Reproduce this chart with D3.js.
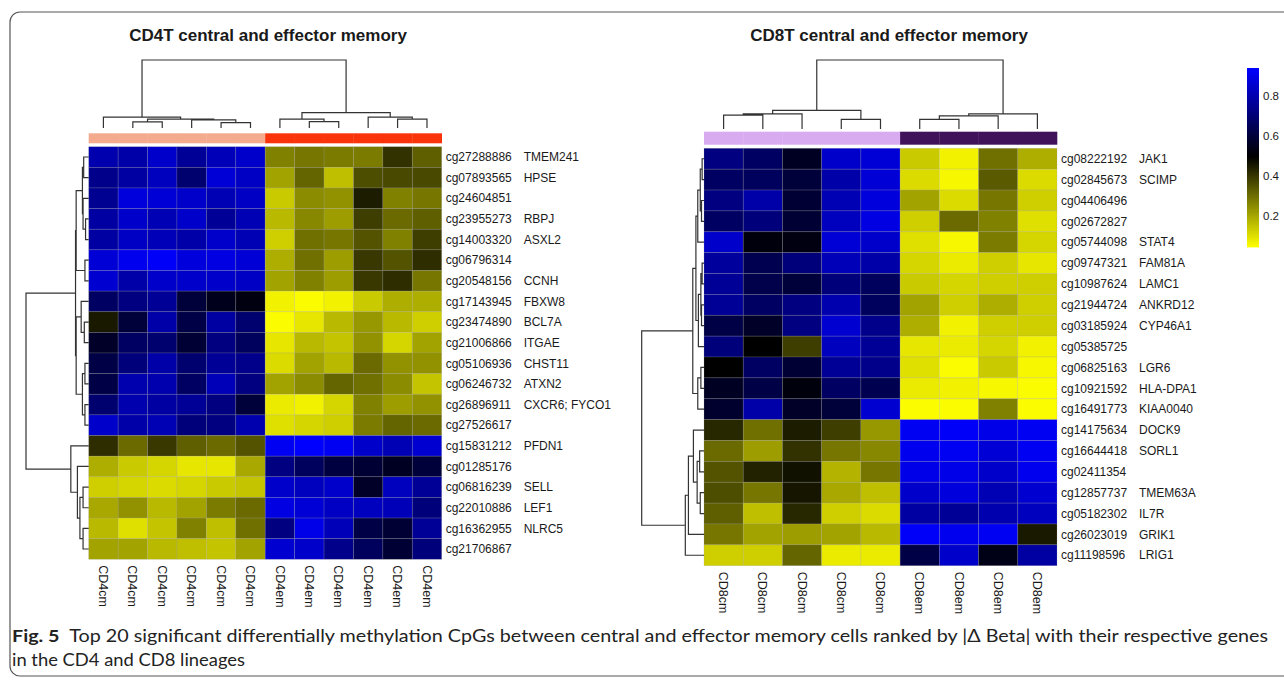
<!DOCTYPE html>
<meta charset="utf-8">
<style>
body { margin: 0; background: #fff; }
text { font-family: "Liberation Sans", Arial, sans-serif; fill: #1a1a1a; }
.title { font-size: 17px; font-weight: bold; text-anchor: middle; }
.rowlab { font-size: 12px; }
.collab { font-size: 12.5px; }
.dendro { fill: none; stroke: #333; stroke-width: 1.2; }
.cell { stroke: rgba(160,160,160,0.3); stroke-width: 0.7; }
.caption { font-family: Lato, "Liberation Sans Narrow", "Liberation Sans", sans-serif; font-size: 17px; fill: #222; }
</style>
<svg width="1284" height="682"></svg>
<script src="https://d3js.org/d3.v7.min.js"></script>
<script>

// ---- data ----
var cd4Samples = ["CD4cm", "CD4cm", "CD4cm", "CD4cm", "CD4cm", "CD4cm",
                  "CD4em", "CD4em", "CD4em", "CD4em", "CD4em", "CD4em"];
var cd4Probes = ["cg27288886", "cg07893565", "cg24604851", "cg23955273", "cg14003320",
                 "cg06796314", "cg20548156", "cg17143945", "cg23474890", "cg21006866",
                 "cg05106936", "cg06246732", "cg26896911", "cg27526617", "cg15831212",
                 "cg01285176", "cg06816239", "cg22010886", "cg16362955", "cg21706867"];
var cd4Genes = ["TMEM241", "HPSE", "", "RBPJ", "ASXL2", "", "CCNH", "FBXW8", "BCL7A", "ITGAE",
                "CHST11", "ATXN2", "CXCR6; FYCO1", "", "PFDN1", "", "SELL", "LEF1", "NLRC5", ""];
var cd4Beta = [
  [0.80, 0.79, 0.85, 0.76, 0.82, 0.85, 0.27, 0.29, 0.28, 0.28, 0.41, 0.33],
  [0.74, 0.78, 0.83, 0.69, 0.87, 0.84, 0.21, 0.32, 0.16, 0.36, 0.37, 0.37],
  [0.75, 0.88, 0.87, 0.85, 0.81, 0.84, 0.14, 0.25, 0.24, 0.45, 0.27, 0.29],
  [0.78, 0.85, 0.81, 0.85, 0.76, 0.81, 0.17, 0.26, 0.22, 0.39, 0.31, 0.33],
  [0.78, 0.84, 0.82, 0.79, 0.85, 0.81, 0.13, 0.30, 0.29, 0.35, 0.27, 0.39],
  [0.87, 0.91, 0.93, 0.88, 0.89, 0.87, 0.19, 0.30, 0.22, 0.40, 0.35, 0.42],
  [0.86, 0.79, 0.85, 0.85, 0.85, 0.84, 0.21, 0.27, 0.22, 0.40, 0.42, 0.29],
  [0.67, 0.72, 0.76, 0.60, 0.55, 0.53, 0.07, 0.05, 0.07, 0.14, 0.19, 0.19],
  [0.455, 0.60, 0.79, 0.62, 0.78, 0.69, 0.05, 0.09, 0.17, 0.23, 0.17, 0.13],
  [0.57, 0.67, 0.69, 0.59, 0.72, 0.66, 0.09, 0.17, 0.15, 0.24, 0.12, 0.21],
  [0.62, 0.71, 0.79, 0.69, 0.76, 0.74, 0.11, 0.21, 0.17, 0.31, 0.24, 0.24],
  [0.62, 0.80, 0.80, 0.67, 0.82, 0.72, 0.21, 0.25, 0.32, 0.30, 0.25, 0.15],
  [0.69, 0.80, 0.78, 0.76, 0.72, 0.60, 0.08, 0.07, 0.12, 0.27, 0.22, 0.24],
  [0.85, 0.79, 0.81, 0.71, 0.72, 0.80, 0.10, 0.12, 0.13, 0.28, 0.32, 0.31],
  [0.42, 0.31, 0.40, 0.33, 0.31, 0.35, 0.92, 0.94, 0.92, 0.85, 0.81, 0.86],
  [0.19, 0.14, 0.12, 0.09, 0.09, 0.20, 0.72, 0.66, 0.61, 0.59, 0.56, 0.60],
  [0.13, 0.12, 0.11, 0.12, 0.14, 0.15, 0.85, 0.83, 0.85, 0.57, 0.83, 0.76],
  [0.20, 0.24, 0.17, 0.21, 0.28, 0.31, 0.89, 0.87, 0.84, 0.83, 0.82, 0.71],
  [0.17, 0.10, 0.15, 0.27, 0.16, 0.30, 0.72, 0.90, 0.82, 0.62, 0.59, 0.76],
  [0.21, 0.21, 0.17, 0.16, 0.15, 0.21, 0.86, 0.85, 0.74, 0.66, 0.59, 0.71]
];

var cd8Samples = ["CD8cm", "CD8cm", "CD8cm", "CD8cm", "CD8cm",
                  "CD8em", "CD8em", "CD8em", "CD8em"];
var cd8Probes = ["cg08222192", "cg02845673", "cg04406496", "cg02672827", "cg05744098",
                 "cg09747321", "cg10987624", "cg21944724", "cg03185924", "cg05385725",
                 "cg06825163", "cg10921592", "cg16491773", "cg14175634", "cg16644418",
                 "cg02411354", "cg12857737", "cg05182302", "cg26023019", "cg11198596"];
var cd8Genes = ["JAK1", "SCIMP", "", "", "STAT4", "FAM81A", "LAMC1", "ANKRD12", "CYP46A1", "",
                "LGR6", "HLA-DPA1", "KIAA0040", "DOCK9", "SORL1", "", "TMEM63A", "IL7R", "GRIK1", "LRIG1"];
var cd8Beta = [
  [0.72, 0.67, 0.56, 0.85, 0.87, 0.14, 0.07, 0.30, 0.19],
  [0.67, 0.66, 0.60, 0.79, 0.87, 0.11, 0.06, 0.34, 0.11],
  [0.72, 0.79, 0.59, 0.81, 0.88, 0.21, 0.11, 0.29, 0.13],
  [0.67, 0.71, 0.59, 0.83, 0.89, 0.13, 0.31, 0.27, 0.10],
  [0.85, 0.52, 0.53, 0.87, 0.85, 0.10, 0.06, 0.28, 0.12],
  [0.77, 0.64, 0.71, 0.82, 0.79, 0.12, 0.08, 0.13, 0.09],
  [0.76, 0.63, 0.60, 0.71, 0.66, 0.14, 0.12, 0.13, 0.13],
  [0.76, 0.67, 0.72, 0.80, 0.66, 0.21, 0.13, 0.19, 0.13],
  [0.62, 0.57, 0.72, 0.86, 0.74, 0.19, 0.07, 0.13, 0.13],
  [0.71, 0.50, 0.39, 0.83, 0.76, 0.09, 0.08, 0.12, 0.07],
  [0.50, 0.67, 0.59, 0.76, 0.74, 0.10, 0.05, 0.14, 0.06],
  [0.56, 0.62, 0.52, 0.67, 0.64, 0.08, 0.07, 0.06, 0.05],
  [0.58, 0.79, 0.57, 0.60, 0.86, 0.05, 0.05, 0.27, 0.05],
  [0.43, 0.30, 0.45, 0.39, 0.23, 0.92, 0.93, 0.90, 0.92],
  [0.31, 0.22, 0.41, 0.29, 0.26, 0.91, 0.92, 0.87, 0.92],
  [0.35, 0.44, 0.47, 0.18, 0.29, 0.90, 0.90, 0.85, 0.91],
  [0.36, 0.29, 0.46, 0.20, 0.16, 0.85, 0.88, 0.81, 0.86],
  [0.33, 0.16, 0.43, 0.13, 0.11, 0.78, 0.76, 0.80, 0.83],
  [0.29, 0.21, 0.22, 0.21, 0.17, 0.93, 0.91, 0.92, 0.455],
  [0.13, 0.13, 0.32, 0.08, 0.08, 0.62, 0.85, 0.54, 0.78]
];

// dendrograms: [height, left, right], leaves are row/column indices
var cd4ColTree = [1, [0.16, 0, [0.13, [0.09, 1, 2], [0.12, 3, [0.08, 4, 5]]]],
                     [0.225, [0.13, 6, [0.095, 7, 8]], [0.16, 9, [0.13, 10, 11]]]];
var cd4RowTree = [1,
  [0.21, [0.2, [0.1, [0.08, 0, 1], [0.09, 2, [0.05, 3, 4]]], [0.06, 5, 6]],
         [0.2, [0.12, 7, [0.07, 8, 9]], [0.1, [0.06, 10, 11], [0.06, 12, 13]]]],
  [0.285, 14, [0.18, 15, [0.14, [0.09, 16, 17], [0.09, 18, 19]]]]];
var cd8ColTree = [1, [0.27, [0.22, [0.2, 0, 1], 2], [0.14, 3, 4]],
                     [0.22, [0.19, [0.14, 5, 6], 7], 8]];
var cd8RowTree = [1,
  [0.18, [0.13, [0.1, [0.06, [0.03, 0, 1], [0.04, 2, 3]], 4], [0.09, [0.05, [0.03, 5, 6], [0.04, 7, 8]], 9]],
         [0.1, [0.05, 10, 11], 12]],
  [0.3, [0.25, [0.17, 13, [0.11, [0.07, 14, 15], [0.06, 16, 17]]], 18], 19]];

var legendTicks = [0.2, 0.4, 0.6, 0.8];

// ---- drawing ----
var svg = d3.select("svg");

svg.append("rect")
    .attr("x", 10).attr("y", 12).attr("width", 1300).attr("height", 664).attr("rx", 10)
    .attr("fill", "none").attr("stroke", "#555").attr("stroke-width", 1.2);

var color = d3.scaleLinear()
    .domain([0.045, 0.5, 0.94])
    .range(["#ffff00", "#000000", "#0000ff"])
    .clamp(true);

function panel(o) {
  var g = svg.append("g");
  var x = d3.scaleBand().domain(d3.range(o.samples.length)).range([o.x0, o.x1]);
  var y = d3.scaleBand().domain(d3.range(o.probes.length)).range([o.y0, o.y1]);

  g.append("text").attr("class", "title").attr("x", o.titleX).attr("y", 41).text(o.title);

  // annotation bar
  g.selectAll(".ann").data(o.samples).enter().append("rect")
      .attr("x", function(d, i) { return x(i); })
      .attr("y", o.annY).attr("width", x.bandwidth() + 0.3).attr("height", o.annH)
      .attr("fill", function(d) { return o.annColors[d]; });

  // cells
  o.beta.forEach(function(row, r) {
    g.selectAll(".c" + r).data(row).enter().append("rect")
        .attr("class", "cell")
        .attr("x", function(d, i) { return x(i); })
        .attr("y", y(r))
        .attr("width", x.bandwidth())
        .attr("height", y.bandwidth())
        .attr("fill", color);
  });

  // row labels
  g.selectAll(".probe").data(o.probes).enter().append("text")
      .attr("class", "rowlab")
      .attr("x", o.x1 + 4)
      .attr("y", function(d, i) { return y(i) + y.bandwidth() / 2; })
      .attr("dy", "0.35em")
      .text(function(d) { return d; });
  g.selectAll(".gene").data(o.genes).enter().append("text")
      .attr("class", "rowlab")
      .attr("x", o.x1 + 82)
      .attr("y", function(d, i) { return y(i) + y.bandwidth() / 2; })
      .attr("dy", "0.35em")
      .text(function(d) { return d; });

  // column labels
  g.selectAll(".sample").data(o.samples).enter().append("text")
      .attr("class", "collab")
      .attr("transform", function(d, i) {
        return "translate(" + (x(i) + x.bandwidth() / 2) + "," + (o.y1 + o.colLabGap) + ") rotate(90)";
      })
      .attr("dy", "0.35em")
      .text(function(d) { return d; });

  // column dendrogram
  var hy = d3.scaleLinear().domain([0, 1]).range([o.colLeafY, 60]);
  var colPath = d3.path();
  (function walk(n) {
    if (typeof n === "number") return { p: x(n) + x.bandwidth() / 2, h: 0 };
    var a = walk(n[1]), b = walk(n[2]);
    colPath.moveTo(a.p, hy(a.h)); colPath.lineTo(a.p, hy(n[0]));
    colPath.lineTo(b.p, hy(n[0])); colPath.lineTo(b.p, hy(b.h));
    return { p: (a.p + b.p) / 2, h: n[0] };
  })(o.colTree);
  g.append("path").attr("class", "dendro").attr("d", colPath.toString());

  // row dendrogram
  var hx = d3.scaleLinear().domain([0, 1]).range([o.x0, o.rowRootX]);
  var rowPath = d3.path();
  (function walk(n) {
    if (typeof n === "number") return { p: y(n) + y.bandwidth() / 2, h: 0 };
    var a = walk(n[1]), b = walk(n[2]);
    rowPath.moveTo(hx(a.h), a.p); rowPath.lineTo(hx(n[0]), a.p);
    rowPath.lineTo(hx(n[0]), b.p); rowPath.lineTo(hx(b.h), b.p);
    return { p: (a.p + b.p) / 2, h: n[0] };
  })(o.rowTree);
  g.append("path").attr("class", "dendro").attr("d", rowPath.toString());
}

panel({
  title: "CD4T central and effector memory", titleX: 268,
  samples: cd4Samples, probes: cd4Probes, genes: cd4Genes, beta: cd4Beta,
  colTree: cd4ColTree, rowTree: cd4RowTree,
  x0: 88.7, x1: 441.7, y0: 146.7, y1: 559.3,
  annY: 133.3, annH: 10, colLeafY: 128, rowRootX: 26, colLabGap: 6,
  annColors: { CD4cm: "#f4aa8c", CD4em: "#fa330a" }
});

panel({
  title: "CD8T central and effector memory", titleX: 889,
  samples: cd8Samples, probes: cd8Probes, genes: cd8Genes, beta: cd8Beta,
  colTree: cd8ColTree, rowTree: cd8RowTree,
  x0: 704, x1: 1057, y0: 148.3, y1: 565.7,
  annY: 131.7, annH: 13, colLeafY: 129, rowRootX: 641.7, colLabGap: 6,
  annColors: { CD8cm: "#d8aaf0", CD8em: "#40125a" }
});

// colour key
var ly = d3.scaleLinear().domain([0.045, 0.94]).range([247, 68]);
var steps = d3.range(0.045, 0.94, 0.005);
svg.append("g").selectAll("rect").data(steps).enter().append("rect")
    .attr("x", 1247).attr("width", 12)
    .attr("y", function(d) { return ly(d + 0.005); })
    .attr("height", ly(0) - ly(0.005) + 0.4)
    .attr("fill", function(d) { return color(d + 0.0025); });
svg.append("g").selectAll("text").data(legendTicks).enter().append("text")
    .attr("x", 1263).attr("y", function(d) { return ly(d); })
    .attr("dy", "0.35em").style("font-size", "11.5px")
    .text(function(d) { return d.toFixed(1); });

// caption
var cap = svg.append("text").attr("class", "caption").attr("x", 12).attr("y", 642)
    .attr("textLength", 1256).attr("lengthAdjust", "spacingAndGlyphs");
cap.append("tspan").style("font-weight", "bold").text("Fig. 5");
cap.append("tspan").text("\u2002Top 20 significant differentially methylation CpGs between central and effector memory cells ranked by |\u0394 Beta| with their respective genes");
svg.append("text").attr("class", "caption").attr("x", 12).attr("y", 666)
    .attr("textLength", 233).attr("lengthAdjust", "spacingAndGlyphs")
    .text("in the CD4 and CD8 lineages");

</script>
